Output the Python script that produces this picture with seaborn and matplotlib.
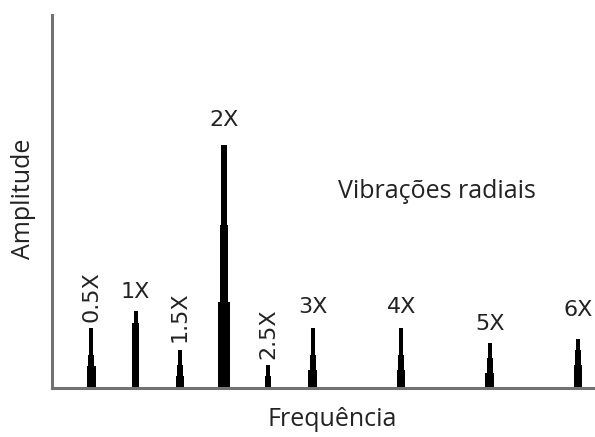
import numpy as np
import pandas as pd
import seaborn as sns
import matplotlib
matplotlib.use("Agg")
import matplotlib.pyplot as plt

# ---- data ----
freqs = [0.5, 1.0, 1.5, 2.0, 2.5, 3.0, 4.0, 5.0, 6.0]
labels = ["0.5X", "1X", "1.5X", "2X", "2.5X", "3X", "4X", "5X", "6X"]
peak_amp = [60, 77, 38, 243, 23, 60, 60, 45, 49]      # narrow top of each spike
mid_amp = [33, 65, 23, 243, 12, 33, 33, 30, 38]       # wider middle part
low_amp = [22, 0, 12, 163, 0, 18, 18, 15, 23]         # wider lower part
foot_amp = [0, 0, 0, 86, 0, 0, 0, 0, 0]               # widest foot
label_gap = [6, 9, 8, 15, 6, 11, 11, 9, 19]
rotated = [True, False, True, False, True, False, False, False, False]

sns.set_theme(style="white")
plt.rcParams['font.family'] = ['Open Sans', 'DejaVu Sans']

fig = plt.figure(figsize=(5.95, 4.37), dpi=100)
ax = fig.add_axes([52/595, 49/437, 1 - 52/595, (388-15)/437])

df = pd.DataFrame({"freq": freqs, "peak": peak_amp, "mid": mid_amp,
                   "low": low_amp, "foot": foot_amp})
for col, w in [("peak", 0.09), ("mid", 0.14), ("low", 0.19), ("foot", 0.26)]:
    sns.barplot(data=df, x="freq", y=col, native_scale=True, width=w,
                color="black", saturation=1, ax=ax, edgecolor="none")

for f, lab, rot, pk, g in zip(freqs, labels, rotated, peak_amp, label_gap):
    ax.text(f, pk + g, lab, rotation=90 if rot else 0, ha="center", va="bottom",
            fontsize=16, color="#222222", family=["DejaVu Sans"])

ax.text(4.4, 196, "Vibrações radiais", ha="center", va="center",
        fontsize=18, color="#222222")

ax.set_xlim(0.056, 6.19)
ax.set_ylim(0, 373)
ax.set_xticks([])
ax.set_yticks([])
ax.set_xlabel("Frequência", fontsize=18, color="#222222")
ax.set_ylabel("Amplitude", fontsize=18, color="#222222")
ax.xaxis.label.set_va("center")
ax.yaxis.label.set_va("center")
ax.xaxis.set_label_coords((332 - 52) / 543, (388 - 419) / 373)
ax.yaxis.set_label_coords((24 - 52) / 543, (388 - 199) / 373)
for s in ["top", "right"]:
    ax.spines[s].set_visible(False)
for s in ["left", "bottom"]:
    ax.spines[s].set_color("#727272")
    ax.spines[s].set_linewidth(2.2)

fig.savefig("out.png", dpi=100)
